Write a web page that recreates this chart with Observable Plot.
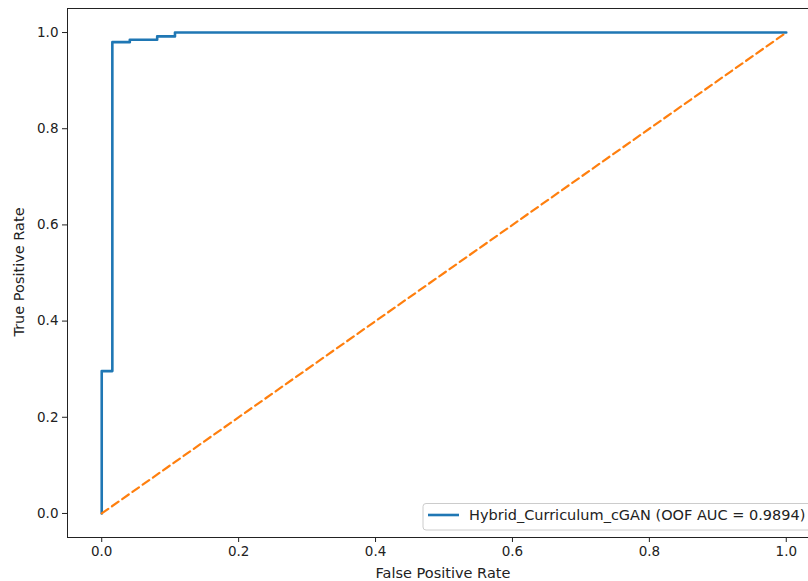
<!DOCTYPE html>
<html>
<head>
<meta charset="utf-8">
<script src="https://cdn.jsdelivr.net/npm/d3@7"></script>
<script src="https://cdn.jsdelivr.net/npm/@observablehq/plot@0.6"></script>
<style>
  html, body { margin: 0; padding: 0; background: #fff; }
  #chart { width: 808px; height: 581px; overflow: hidden; }
  svg { font-family: "DejaVu Sans", sans-serif; }
</style>
</head>
<body>
<div id="chart"></div>
<script>
// ROC curve (step corners)
const fpr = [0, 0, 0.0155, 0.0155, 0.041, 0.041, 0.081, 0.081, 0.107, 0.107, 1.0];
const tpr = [0, 0.296, 0.296, 0.980, 0.980, 0.985, 0.985, 0.992, 0.992, 1.0, 1.0];
const chanceX = [0, 1];
const chanceY = [0, 1];
const ticks = [0, 0.2, 0.4, 0.6, 0.8, 1.0];
const seriesName = "Hybrid_Curriculum_cGAN (OOF AUC = 0.9894)";

const roc = fpr.map((x, i) => ({x, y: tpr[i]}));
const chance = chanceX.map((x, i) => ({x, y: chanceY[i]}));

const plot = Plot.plot({
  width: 808,
  height: 581,
  marginLeft: 67,
  marginRight: -12,
  marginTop: 8,
  marginBottom: 44,
  style: {fontFamily: "DejaVu Sans, sans-serif", fontSize: "13.5px", color: "#222", background: "#fff"},
  x: {domain: [-0.05, 1.05], ticks: ticks, tickFormat: d3.format(".1f"), label: null},
  y: {domain: [-0.05, 1.05], ticks: ticks, tickFormat: d3.format(".1f"), label: null},
  marks: [
    Plot.line(roc, {x: "x", y: "y", stroke: "#1f77b4", strokeWidth: 2.6, curve: "linear"}),
    Plot.line(chance, {x: "x", y: "y", stroke: "#ff7f0e", strokeWidth: 2.2, strokeDasharray: "8,4.5"}),
    Plot.axisX({ticks: ticks, tickFormat: d3.format(".1f"), tickSize: 5, tickPadding: 4, fontSize: 13.5, stroke: "#222", label: null}),
    Plot.axisY({ticks: ticks, tickFormat: d3.format(".1f"), tickSize: 5, tickPadding: 4, fontSize: 13.5, stroke: "#222", label: null}),
    Plot.frame({stroke: "#222", strokeWidth: 1})
  ]
});
document.getElementById("chart").appendChild(plot);

const svg = d3.select(plot);
// axis titles
svg.append("text")
  .attr("x", 443).attr("y", 578)
  .attr("text-anchor", "middle")
  .attr("font-size", 14.5).attr("fill", "#222")
  .text("False Positive Rate");
svg.append("text")
  .attr("transform", "translate(24,272) rotate(-90)")
  .attr("text-anchor", "middle")
  .attr("font-size", 14.5).attr("fill", "#222")
  .text("True Positive Rate");

// legend
const lg = svg.append("g");
lg.append("rect")
  .attr("x", 423).attr("y", 503.5).attr("width", 400).attr("height", 26.5)
  .attr("rx", 3).attr("fill", "#fff").attr("fill-opacity", 0.8)
  .attr("stroke", "#ccc").attr("stroke-width", 1);
lg.append("line")
  .attr("x1", 428).attr("x2", 459).attr("y1", 515).attr("y2", 515)
  .attr("stroke", "#1f77b4").attr("stroke-width", 2.6);
lg.append("text")
  .attr("x", 469).attr("y", 515).attr("dy", "0.35em")
  .attr("text-anchor", "start")
  .attr("font-size", 14.5).attr("fill", "#222")
  .text(seriesName);
</script>
</body>
</html>
